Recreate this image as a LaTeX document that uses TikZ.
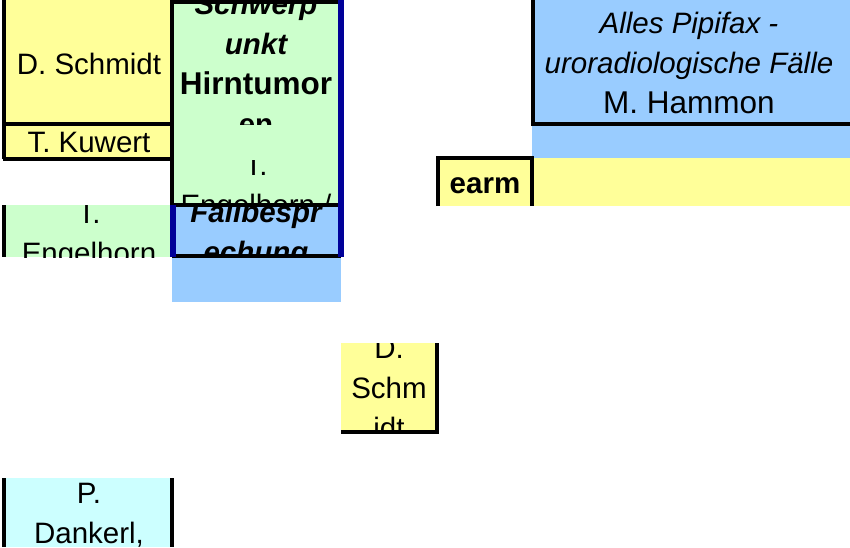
\documentclass[tikz,border=0pt]{standalone}
\usepackage{fontspec}
\setmainfont{Liberation Sans}
\usepackage{tikz}
\definecolor{cellyellow}{HTML}{FFFF99}
\definecolor{cellgreen}{HTML}{CCFFCC}
\definecolor{cellblue}{HTML}{99CCFF}
\definecolor{cellcyan}{HTML}{CCFFFF}
\definecolor{edgeblue}{HTML}{000099}
\newcommand{\wideline}[1]{{\fontsize{31.5}{40}\selectfont #1}}
\tikzset{
   cellline/.style={draw=black, line width=3.5pt},
   blueline/.style={draw=edgeblue, line width=6.5pt},
   celltext/.style={font=\fontsize{29.5}{40}\selectfont, align=center,
      anchor=base, inner sep=0pt},
    }
\begin{document}
\begin{tikzpicture}[x=1pt, y=-1pt]
        \useasboundingbox (0,0) rectangle (850,547);
        % fills
        \fill[cellyellow] (3,0) rectangle (172,159);
        \fill[cellgreen] (172,0) rectangle (341,205);
        \fill[cellblue] (172,205) rectangle (341,302);
        \fill[cellgreen] (3,205) rectangle (172,257);
        \fill[cellyellow] (341,343) rectangle (438,433);
        \fill[cellcyan] (3,478) rectangle (173,547);
        \fill[cellblue] (532,0) rectangle (850,158);
        \fill[cellyellow] (437,158) rectangle (850,206);
        % texts (anchor at baseline of last line)
        \node[celltext] (dschmidt) at (89,74) {D. Schmidt};
        \node[celltext] (kuwert) at (89,152) {T. Kuwert};
        \begin{scope}
            \clip (172,0) rectangle (341,124);
            \node[celltext, font=\fontsize{29.5}{40}\selectfont\bfseries] (schwerpunkt) at (256,134)
               {\itshape Schwerp\\\itshape unkt\\\wideline{Hirntumor}\\en};
        \end{scope}
        \begin{scope}
            \clip (172,160) rectangle (341,205);
            \node[celltext] (engelhornB) at (256,215) {T.\\Engelhorn /};
        \end{scope}
        \begin{scope}
            \clip (172,205) rectangle (341,256);
            \node[celltext, font=\fontsize{29.5}{40}\selectfont\bfseries\itshape] (fallbespr) at (256,262)
               {Fallbespr\\echung};
        \end{scope}
        \begin{scope}
            \clip (3,205) rectangle (172,257);
            \node[celltext] (engelhornA) at (89,263) {T.\\Engelhorn};
        \end{scope}
        \begin{scope}
            \clip (341,343) rectangle (438,433);
            \node[celltext] (dschmidtsmall) at (389,438) {D.\\Schm\\idt};
        \end{scope}
        \begin{scope}
            \clip (3,478) rectangle (173,547);
            \node[celltext] (dankerl) at (89,543) {P.\\Dankerl,};
        \end{scope}
        \node[celltext] (pipifax) at (689,113)
           {\itshape Alles Pipifax -\\\itshape uroradiologische Fälle\\\wideline{M. Hammon}};
        \node[celltext, font=\fontsize{29.5}{40}\selectfont\bfseries] (earm) at (485,193) {earm};
        % borders
        \draw[cellline] (4,0) -- (4,159) (3,124) -- (172,124) (3,159) -- (172,159);
        \draw[cellline] (4,205) -- (4,257);
        \draw[cellline] (4,478) -- (4,547) (172,478) -- (172,547);
        \draw[cellline] (172,205) -- (172,0) (170,2) -- (341,2);
        \draw[cellline] (172,205) -- (341,205) (172,256) -- (341,256);
        \draw[blueline] (173,205) -- (173,257);
        \draw[blueline] (341,0) -- (341,257);
        \draw[cellline] (437,343) -- (437,433) (341,432) -- (439,432);
        \draw[cellline] (438,206) -- (438,158) -- (532,158) -- (532,206);
        \draw[cellline] (533,0) -- (533,124) -- (850,124);
\end{tikzpicture}
\end{document}
